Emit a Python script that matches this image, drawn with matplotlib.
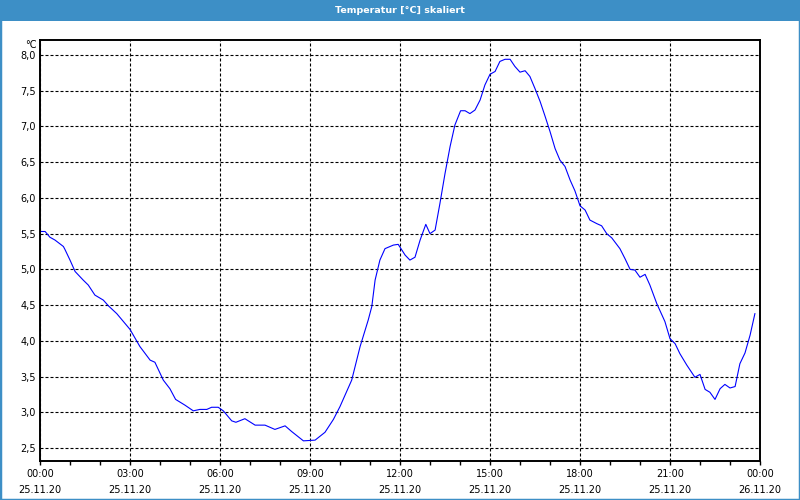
import matplotlib
matplotlib.use("Agg")
import matplotlib.pyplot as plt
from matplotlib.patches import Rectangle
from matplotlib.ticker import MultipleLocator, FixedLocator

# hours since 25.11.20 00:00
hours = [0.00, 0.17, 0.33, 0.50, 0.78, 0.83, 1.00, 1.17, 1.44, 1.61, 1.83, 2.11, 2.28, 2.56, 2.78,
         3.00, 3.33, 3.67, 3.83, 4.11, 4.33, 4.52, 4.83, 5.11, 5.33, 5.56, 5.72, 5.94, 6.11, 6.39,
         6.53, 6.83, 7.17, 7.50, 7.83, 8.17, 8.39, 8.78, 9.17, 9.50, 9.78, 10.00, 10.39, 10.67,
         10.94, 11.06, 11.17, 11.33, 11.50, 11.78, 11.94, 12.17, 12.33, 12.50, 12.67, 12.86, 13.00,
         13.17, 13.33, 13.50, 13.67, 13.83, 14.02, 14.17, 14.33, 14.50, 14.67, 14.83, 15.00, 15.17,
         15.33, 15.50, 15.67, 15.83, 16.00, 16.17, 16.33, 16.50, 16.67, 16.83, 17.00, 17.17, 17.33,
         17.50, 17.67, 17.83, 18.00, 18.17, 18.33, 18.56, 18.72, 18.89, 19.06, 19.33, 19.50, 19.67,
         19.83, 20.00, 20.17, 20.33, 20.56, 20.83, 21.00, 21.17, 21.33, 21.56, 21.83, 22.00, 22.17,
         22.33, 22.50, 22.67, 22.83, 23.00, 23.17, 23.33, 23.50, 23.67, 23.83]
temps = [5.53, 5.53, 5.45, 5.41, 5.32, 5.28, 5.13, 4.97, 4.85, 4.78, 4.64, 4.57, 4.49, 4.38, 4.27,
         4.16, 3.92, 3.73, 3.70, 3.45, 3.33, 3.18, 3.10, 3.02, 3.04, 3.04, 3.07, 3.07, 3.02, 2.88,
         2.86, 2.91, 2.82, 2.82, 2.76, 2.81, 2.73, 2.60, 2.61, 2.72, 2.90, 3.08, 3.45, 3.92,
         4.29, 4.48, 4.85, 5.13, 5.29, 5.34, 5.35, 5.20, 5.13, 5.17, 5.41, 5.63, 5.50,
         5.55, 5.92, 6.34, 6.72, 7.02, 7.22, 7.22, 7.18, 7.23, 7.37, 7.58, 7.73, 7.77,
         7.91, 7.94, 7.94, 7.84, 7.76, 7.78, 7.70, 7.53, 7.35, 7.15, 6.93, 6.69, 6.53,
         6.44, 6.25, 6.10, 5.89, 5.83, 5.69, 5.64, 5.61, 5.50, 5.44, 5.29, 5.15, 5.00,
         4.99, 4.89, 4.93, 4.78, 4.52, 4.27, 4.03, 3.96, 3.82, 3.66, 3.49, 3.53, 3.32,
         3.28, 3.18, 3.33, 3.39, 3.34, 3.36, 3.68, 3.83, 4.08, 4.38]

tick_hours = [0, 3, 6, 9, 12, 15, 18, 21, 24]
tick_labels = ["00:00\n25.11.20", "03:00\n25.11.20", "06:00\n25.11.20", "09:00\n25.11.20",
               "12:00\n25.11.20", "15:00\n25.11.20", "18:00\n25.11.20", "21:00\n25.11.20",
               "00:00\n26.11.20"]
y_ticks = [2.5, 3.0, 3.5, 4.0, 4.5, 5.0, 5.5, 6.0, 6.5, 7.0, 7.5, 8.0]

plt.rcParams['font.family'] = ['DejaVu Sans']
fig = plt.figure(figsize=(8, 5), dpi=100)
fig.patch.set_facecolor("white")

# header bar + window border
fig.patches.append(Rectangle((0, 0.958), 1, 0.042, transform=fig.transFigure,
                             facecolor="#3d8fc6", edgecolor="none"))
fig.patches.append(Rectangle((0, 0), 1, 1, transform=fig.transFigure, fill=False,
                             edgecolor="#3d8fc6", linewidth=2.5))
fig.text(0.5, 0.979, "Temperatur [°C] skaliert", color="white", fontsize=6.8,
         fontweight="bold", ha="center", va="center")

ax = fig.add_axes([0.05, 0.078, 0.90, 0.842])
ax.plot(hours, temps, color="#0000ff", linewidth=0.8)

ax.set_xlim(0, 24)
ax.set_ylim(2.318, 8.21)
ax.xaxis.set_major_locator(FixedLocator(tick_hours))
ax.set_xticklabels(tick_labels, linespacing=1.75)
ax.xaxis.set_minor_locator(MultipleLocator(1))
ax.set_yticks(y_ticks)
ax.set_yticklabels([f"{v:.1f}".replace(".", ",") for v in y_ticks])

ax.tick_params(axis="x", which="both", direction="out", length=3, width=1, pad=3,
               labelsize=7, colors="black")
ax.tick_params(axis="y", length=0, pad=3, labelsize=7)
ax.grid(True, color="black", linestyle=(0, (2.7, 1.8)), linewidth=0.8)
for s in ax.spines.values():
    s.set_linewidth(1.4)
    s.set_color("black")

ax.text(-0.004, 1.0, "°C", transform=ax.transAxes, ha="right", va="top", fontsize=7)

fig.savefig("out.png", dpi=100)
